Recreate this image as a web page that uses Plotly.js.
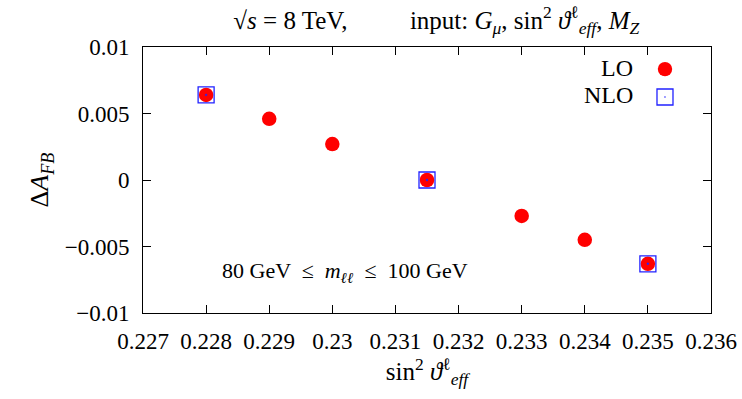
<!DOCTYPE html>
<html>
<head>
<meta charset="utf-8">
<script src="https://cdn.plot.ly/plotly-3.0.1.min.js"></script>
<style>html,body{margin:0;padding:0;background:#fff}#chart{width:742px;height:399px}</style>
</head>
<body>
<div id="chart"></div>
<script>
// Data
const loX  = [0.228, 0.229, 0.230, 0.2315, 0.233, 0.234, 0.235];
const loY  = [0.0064, 0.0046, 0.0027, 0.0, -0.0027, -0.0045, -0.0063];
const nloX = [0.228, 0.2315, 0.235];
const nloY = [0.0064, 0.0, -0.0063];

const xTickVals = [0.227, 0.228, 0.229, 0.230, 0.231, 0.232, 0.233, 0.234, 0.235, 0.236];
const xTickText = ["0.227", "0.228", "0.229", "0.23", "0.231", "0.232", "0.233", "0.234", "0.235", "0.236"];
const yTickVals = [0.01, 0.005, 0, -0.005, -0.01];
const yTickText = ["0.01", "0.005", "0", "\u22120.005", "\u22120.01"];

const FONT = "Liberation Serif";
const NB = "\u00a0";

const traces = [
  {x: loX, y: loY, type: "scatter", mode: "markers", name: "LO",
   marker: {symbol: "circle", size: 14.5, color: "#ff0000", line: {width: 0}}},
  {x: nloX, y: nloY, type: "scatter", mode: "markers", name: "NLO",
   marker: {symbol: "square-open-dot", size: 16, color: "#2222ff", line: {width: 1.3, color: "#2222ff"}}}
];

const axisCommon = {
  showline: true, linecolor: "#000", linewidth: 1, mirror: "allticks",
  ticks: "inside", ticklen: 8, tickwidth: 1, tickcolor: "#000",
  showgrid: false, zeroline: false,
  tickfont: {family: FONT, size: 23, color: "#000"}
};

const layout = {
  width: 742, height: 399,
  margin: {l: 143, r: 31, t: 47, b: 86},
  paper_bgcolor: "#fff", plot_bgcolor: "#fff",
  showlegend: false,
  font: {family: FONT, color: "#000"},
  title: {
    text: "\u221A<i>s</i> = 8 TeV," + NB.repeat(10) + "input: <i>G</i><sub><i>\u03BC</i></sub>, sin<sup>2</sup> <i>\u03D1</i><sup>\u2113</sup><sub><i>eff</i></sub>, <i>M</i><sub><i>Z</i></sub>",
    font: {family: FONT, size: 25, color: "#000"},
    x: 0.588, xanchor: "center", y: 0.95, yanchor: "middle"
  },
  xaxis: Object.assign({}, axisCommon, {
    range: [0.227, 0.236], tickvals: xTickVals, ticktext: xTickText,
    ticklabelstandoff: 7,
    title: {text: "sin<sup>2</sup> <i>\u03D1</i><sup>\u2113</sup><sub><i>eff</i></sub>", font: {family: FONT, size: 25, color: "#000"}, standoff: 9}
  }),
  yaxis: Object.assign({}, axisCommon, {
    range: [-0.01, 0.01], tickvals: yTickVals, ticktext: yTickText,
    ticklabelstandoff: 8,
    title: {text: "\u0394<i>A</i><sub><i>FB</i></sub>", font: {family: FONT, size: 26, color: "#000"}, standoff: 8}
  }),
  annotations: [
    {xref: "paper", yref: "paper", x: 0.355, y: 0.155, xanchor: "center", yanchor: "middle",
     text: "80 GeV " + NB + "\u2264" + NB + " <i>m</i><sub><i>\u2113\u2113</i></sub> " + NB + "\u2264" + NB + " 100 GeV", showarrow: false,
     font: {family: FONT, size: 22, color: "#000"}},
    {xref: "paper", yref: "paper", x: 0.866, y: 0.92, xanchor: "right", yanchor: "middle",
     text: "LO", showarrow: false, font: {family: FONT, size: 24, color: "#000"}},
    {xref: "paper", yref: "paper", x: 0.866, y: 0.818, xanchor: "right", yanchor: "middle",
     text: "NLO", showarrow: false, font: {family: FONT, size: 24, color: "#000"}}
  ],
  shapes: [
    {type: "circle", xref: "paper", yref: "paper", xsizemode: "pixel", ysizemode: "pixel",
     xanchor: 0.919, yanchor: 0.917, x0: -7.2, x1: 7.2, y0: -7.2, y1: 7.2,
     fillcolor: "#ff0000", line: {width: 0}},
    {type: "rect", xref: "paper", yref: "paper", xsizemode: "pixel", ysizemode: "pixel",
     xanchor: 0.919, yanchor: 0.812, x0: -8, x1: 8, y0: -8, y1: 8,
     fillcolor: "rgba(0,0,0,0)", line: {width: 1.3, color: "#2222ff"}},
    {type: "circle", xref: "paper", yref: "paper", xsizemode: "pixel", ysizemode: "pixel",
     xanchor: 0.919, yanchor: 0.812, x0: -0.8, x1: 0.8, y0: -0.8, y1: 0.8,
     fillcolor: "#2222ff", line: {width: 0}}
  ]
};

Plotly.newPlot("chart", traces, layout, {displayModeBar: false, staticPlot: true});
</script>
</body>
</html>
